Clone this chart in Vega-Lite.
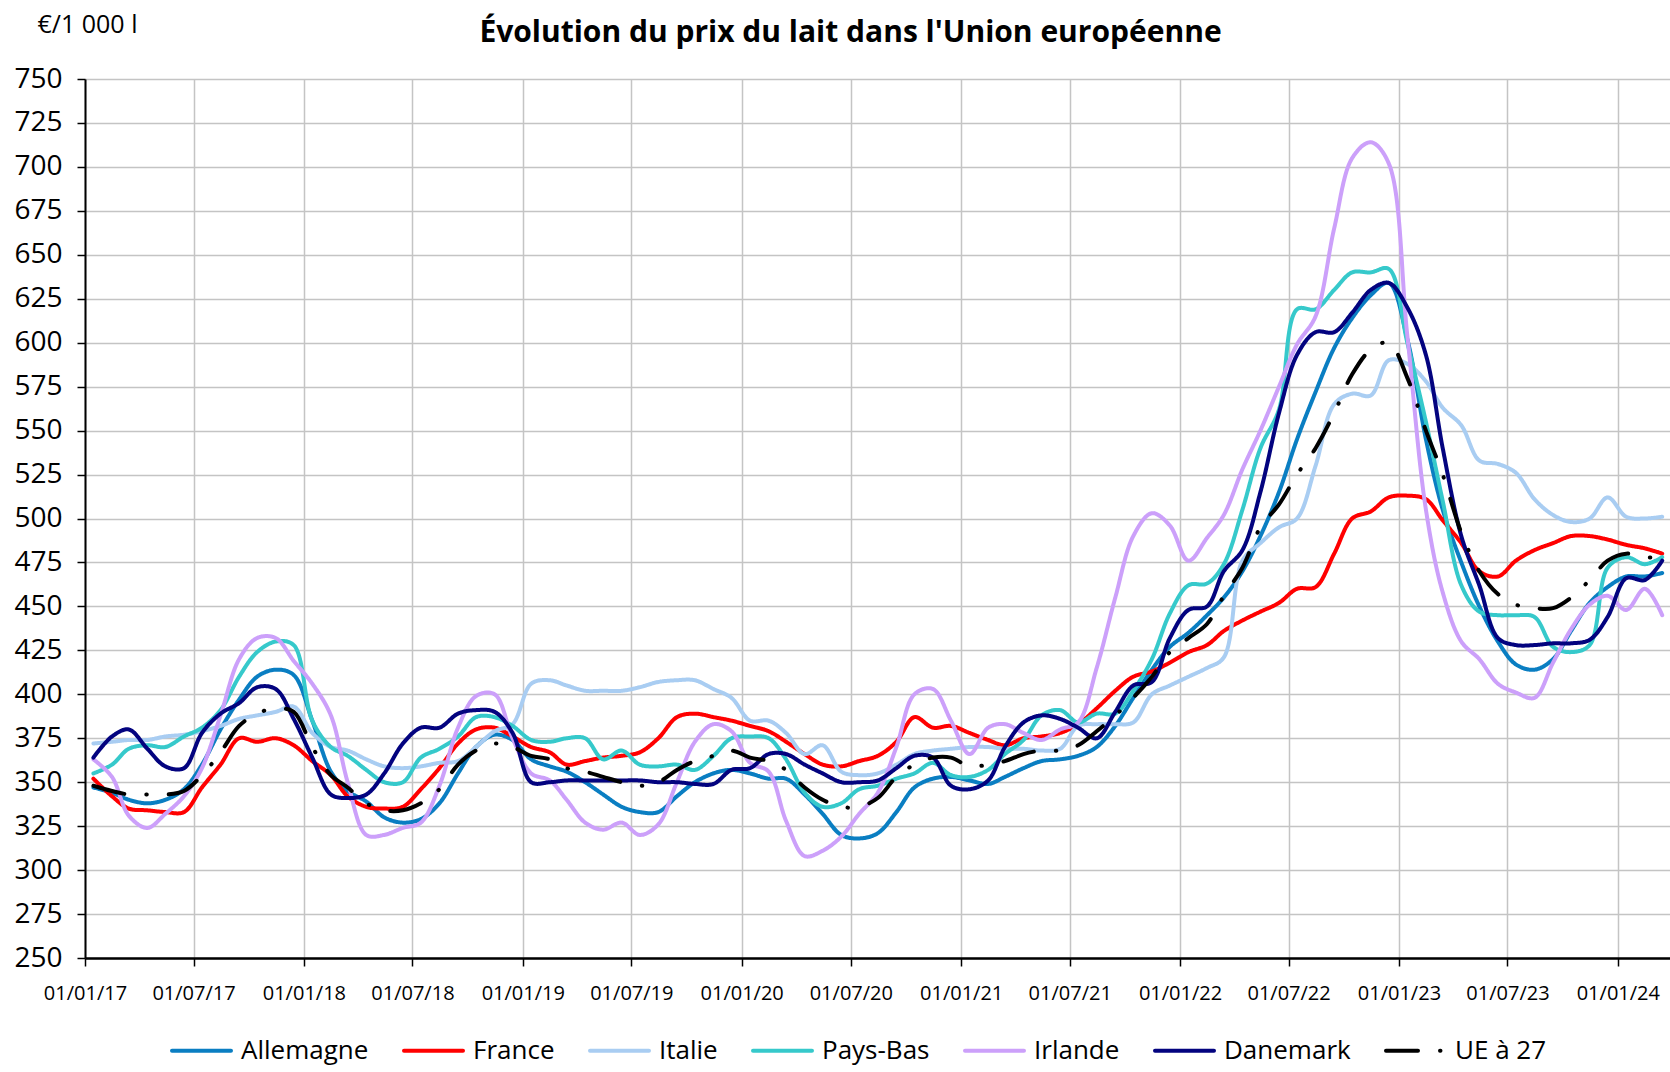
{
"$schema":"https://vega.github.io/schema/vega-lite/v6.json",
"width":1585,"height":879,
"autosize":{"type":"none"},
"padding":{"left":85,"top":79,"right":0,"bottom":114},
"background":"white",
"config":{"view":{"stroke":null}},
"title":{"text":"Évolution du prix du lait dans l'Union européenne","orient":"top","font":"Open Sans","fontSize":30,"fontWeight":"bold","color":"black","anchor":"middle","dx":-27,"offset":30,"dy":66},
"data":{"values":[
{"d":"2017-01-15","s":"Allemagne","v":347},{"d":"2017-02-15","s":"Allemagne","v":344},{"d":"2017-03-15","s":"Allemagne","v":340},{"d":"2017-04-15","s":"Allemagne","v":338},{"d":"2017-05-15","s":"Allemagne","v":340},{"d":"2017-06-15","s":"Allemagne","v":346},{"d":"2017-07-15","s":"Allemagne","v":360},{"d":"2017-08-15","s":"Allemagne","v":380},{"d":"2017-09-15","s":"Allemagne","v":397},{"d":"2017-10-15","s":"Allemagne","v":410},{"d":"2017-11-15","s":"Allemagne","v":414},{"d":"2017-12-15","s":"Allemagne","v":411},
{"d":"2018-01-15","s":"Allemagne","v":385},{"d":"2018-02-15","s":"Allemagne","v":356},{"d":"2018-03-15","s":"Allemagne","v":345},{"d":"2018-04-15","s":"Allemagne","v":339},{"d":"2018-05-15","s":"Allemagne","v":330},{"d":"2018-06-15","s":"Allemagne","v":327},{"d":"2018-07-15","s":"Allemagne","v":329},{"d":"2018-08-15","s":"Allemagne","v":338},{"d":"2018-09-15","s":"Allemagne","v":355},{"d":"2018-10-15","s":"Allemagne","v":370},{"d":"2018-11-15","s":"Allemagne","v":377},{"d":"2018-12-15","s":"Allemagne","v":374},
{"d":"2019-01-15","s":"Allemagne","v":363},{"d":"2019-02-15","s":"Allemagne","v":359},{"d":"2019-03-15","s":"Allemagne","v":356},{"d":"2019-04-15","s":"Allemagne","v":350},{"d":"2019-05-15","s":"Allemagne","v":343},{"d":"2019-06-15","s":"Allemagne","v":336},{"d":"2019-07-15","s":"Allemagne","v":333},{"d":"2019-08-15","s":"Allemagne","v":333},{"d":"2019-09-15","s":"Allemagne","v":342},{"d":"2019-10-15","s":"Allemagne","v":350},{"d":"2019-11-15","s":"Allemagne","v":355},{"d":"2019-12-15","s":"Allemagne","v":357},
{"d":"2020-01-15","s":"Allemagne","v":355},{"d":"2020-02-15","s":"Allemagne","v":352},{"d":"2020-03-15","s":"Allemagne","v":352},{"d":"2020-04-15","s":"Allemagne","v":343},{"d":"2020-05-15","s":"Allemagne","v":332},{"d":"2020-06-15","s":"Allemagne","v":320},{"d":"2020-07-15","s":"Allemagne","v":318},{"d":"2020-08-15","s":"Allemagne","v":321},{"d":"2020-09-15","s":"Allemagne","v":333},{"d":"2020-10-15","s":"Allemagne","v":347},{"d":"2020-11-15","s":"Allemagne","v":352},{"d":"2020-12-15","s":"Allemagne","v":353},
{"d":"2021-01-15","s":"Allemagne","v":351},{"d":"2021-02-15","s":"Allemagne","v":349},{"d":"2021-03-15","s":"Allemagne","v":353},{"d":"2021-04-15","s":"Allemagne","v":358},{"d":"2021-05-15","s":"Allemagne","v":362},{"d":"2021-06-15","s":"Allemagne","v":363},{"d":"2021-07-15","s":"Allemagne","v":365},{"d":"2021-08-15","s":"Allemagne","v":370},{"d":"2021-09-15","s":"Allemagne","v":382},{"d":"2021-10-15","s":"Allemagne","v":398},{"d":"2021-11-15","s":"Allemagne","v":414},{"d":"2021-12-15","s":"Allemagne","v":427},
{"d":"2022-01-15","s":"Allemagne","v":435},{"d":"2022-02-15","s":"Allemagne","v":445},{"d":"2022-03-15","s":"Allemagne","v":455},{"d":"2022-04-15","s":"Allemagne","v":470},{"d":"2022-05-15","s":"Allemagne","v":490},{"d":"2022-06-15","s":"Allemagne","v":515},{"d":"2022-07-15","s":"Allemagne","v":545},{"d":"2022-08-15","s":"Allemagne","v":572},{"d":"2022-09-15","s":"Allemagne","v":597},{"d":"2022-10-15","s":"Allemagne","v":614},{"d":"2022-11-15","s":"Allemagne","v":627},{"d":"2022-12-15","s":"Allemagne","v":634},
{"d":"2023-01-15","s":"Allemagne","v":602},{"d":"2023-02-15","s":"Allemagne","v":545},{"d":"2023-03-15","s":"Allemagne","v":505},{"d":"2023-04-15","s":"Allemagne","v":475},{"d":"2023-05-15","s":"Allemagne","v":450},{"d":"2023-06-15","s":"Allemagne","v":430},{"d":"2023-07-15","s":"Allemagne","v":417},{"d":"2023-08-15","s":"Allemagne","v":414},{"d":"2023-09-15","s":"Allemagne","v":420},{"d":"2023-10-15","s":"Allemagne","v":436},{"d":"2023-11-15","s":"Allemagne","v":452},{"d":"2023-12-15","s":"Allemagne","v":461},
{"d":"2024-01-15","s":"Allemagne","v":467},{"d":"2024-02-15","s":"Allemagne","v":467},{"d":"2024-03-15","s":"Allemagne","v":469},
{"d":"2017-01-15","s":"France","v":352},{"d":"2017-02-15","s":"France","v":342},{"d":"2017-03-15","s":"France","v":335},{"d":"2017-04-15","s":"France","v":334},{"d":"2017-05-15","s":"France","v":333},{"d":"2017-06-15","s":"France","v":333},{"d":"2017-07-15","s":"France","v":347},{"d":"2017-08-15","s":"France","v":360},{"d":"2017-09-15","s":"France","v":375},{"d":"2017-10-15","s":"France","v":373},{"d":"2017-11-15","s":"France","v":375},{"d":"2017-12-15","s":"France","v":371},
{"d":"2018-01-15","s":"France","v":362},{"d":"2018-02-15","s":"France","v":354},{"d":"2018-03-15","s":"France","v":342},{"d":"2018-04-15","s":"France","v":336},{"d":"2018-05-15","s":"France","v":335},{"d":"2018-06-15","s":"France","v":336},{"d":"2018-07-15","s":"France","v":346},{"d":"2018-08-15","s":"France","v":358},{"d":"2018-09-15","s":"France","v":372},{"d":"2018-10-15","s":"France","v":380},{"d":"2018-11-15","s":"France","v":381},{"d":"2018-12-15","s":"France","v":376},
{"d":"2019-01-15","s":"France","v":370},{"d":"2019-02-15","s":"France","v":367},{"d":"2019-03-15","s":"France","v":360},{"d":"2019-04-15","s":"France","v":362},{"d":"2019-05-15","s":"France","v":364},{"d":"2019-06-15","s":"France","v":365},{"d":"2019-07-15","s":"France","v":367},{"d":"2019-08-15","s":"France","v":375},{"d":"2019-09-15","s":"France","v":387},{"d":"2019-10-15","s":"France","v":389},{"d":"2019-11-15","s":"France","v":387},{"d":"2019-12-15","s":"France","v":385},
{"d":"2020-01-15","s":"France","v":382},{"d":"2020-02-15","s":"France","v":379},{"d":"2020-03-15","s":"France","v":373},{"d":"2020-04-15","s":"France","v":366},{"d":"2020-05-15","s":"France","v":360},{"d":"2020-06-15","s":"France","v":359},{"d":"2020-07-15","s":"France","v":362},{"d":"2020-08-15","s":"France","v":365},{"d":"2020-09-15","s":"France","v":373},{"d":"2020-10-15","s":"France","v":387},{"d":"2020-11-15","s":"France","v":381},{"d":"2020-12-15","s":"France","v":382},
{"d":"2021-01-15","s":"France","v":378},{"d":"2021-02-15","s":"France","v":374},{"d":"2021-03-15","s":"France","v":371},{"d":"2021-04-15","s":"France","v":375},{"d":"2021-05-15","s":"France","v":376},{"d":"2021-06-15","s":"France","v":378},{"d":"2021-07-15","s":"France","v":383},{"d":"2021-08-15","s":"France","v":392},{"d":"2021-09-15","s":"France","v":402},{"d":"2021-10-15","s":"France","v":410},{"d":"2021-11-15","s":"France","v":413},{"d":"2021-12-15","s":"France","v":418},
{"d":"2022-01-15","s":"France","v":424},{"d":"2022-02-15","s":"France","v":428},{"d":"2022-03-15","s":"France","v":436},{"d":"2022-04-15","s":"France","v":442},{"d":"2022-05-15","s":"France","v":447},{"d":"2022-06-15","s":"France","v":452},{"d":"2022-07-15","s":"France","v":460},{"d":"2022-08-15","s":"France","v":461},{"d":"2022-09-15","s":"France","v":480},{"d":"2022-10-15","s":"France","v":500},{"d":"2022-11-15","s":"France","v":504},{"d":"2022-12-15","s":"France","v":512},
{"d":"2023-01-15","s":"France","v":513},{"d":"2023-02-15","s":"France","v":511},{"d":"2023-03-15","s":"France","v":499},{"d":"2023-04-15","s":"France","v":486},{"d":"2023-05-15","s":"France","v":470},{"d":"2023-06-15","s":"France","v":467},{"d":"2023-07-15","s":"France","v":476},{"d":"2023-08-15","s":"France","v":482},{"d":"2023-09-15","s":"France","v":486},{"d":"2023-10-15","s":"France","v":490},{"d":"2023-11-15","s":"France","v":490},{"d":"2023-12-15","s":"France","v":488},
{"d":"2024-01-15","s":"France","v":485},{"d":"2024-02-15","s":"France","v":483},{"d":"2024-03-15","s":"France","v":480},
{"d":"2017-01-15","s":"Italie","v":372},{"d":"2017-02-15","s":"Italie","v":373},{"d":"2017-03-15","s":"Italie","v":374},{"d":"2017-04-15","s":"Italie","v":374},{"d":"2017-05-15","s":"Italie","v":376},{"d":"2017-06-15","s":"Italie","v":377},{"d":"2017-07-15","s":"Italie","v":379},{"d":"2017-08-15","s":"Italie","v":382},{"d":"2017-09-15","s":"Italie","v":386},{"d":"2017-10-15","s":"Italie","v":388},{"d":"2017-11-15","s":"Italie","v":390},{"d":"2017-12-15","s":"Italie","v":393},
{"d":"2018-01-15","s":"Italie","v":378},{"d":"2018-02-15","s":"Italie","v":370},{"d":"2018-03-15","s":"Italie","v":368},{"d":"2018-04-15","s":"Italie","v":363},{"d":"2018-05-15","s":"Italie","v":359},{"d":"2018-06-15","s":"Italie","v":358},{"d":"2018-07-15","s":"Italie","v":359},{"d":"2018-08-15","s":"Italie","v":361},{"d":"2018-09-15","s":"Italie","v":362},{"d":"2018-10-15","s":"Italie","v":370},{"d":"2018-11-15","s":"Italie","v":379},{"d":"2018-12-15","s":"Italie","v":383},
{"d":"2019-01-15","s":"Italie","v":406},{"d":"2019-02-15","s":"Italie","v":408},{"d":"2019-03-15","s":"Italie","v":405},{"d":"2019-04-15","s":"Italie","v":402},{"d":"2019-05-15","s":"Italie","v":402},{"d":"2019-06-15","s":"Italie","v":402},{"d":"2019-07-15","s":"Italie","v":404},{"d":"2019-08-15","s":"Italie","v":407},{"d":"2019-09-15","s":"Italie","v":408},{"d":"2019-10-15","s":"Italie","v":408},{"d":"2019-11-15","s":"Italie","v":403},{"d":"2019-12-15","s":"Italie","v":398},
{"d":"2020-01-15","s":"Italie","v":385},{"d":"2020-02-15","s":"Italie","v":385},{"d":"2020-03-15","s":"Italie","v":378},{"d":"2020-04-15","s":"Italie","v":366},{"d":"2020-05-15","s":"Italie","v":371},{"d":"2020-06-15","s":"Italie","v":356},{"d":"2020-07-15","s":"Italie","v":354},{"d":"2020-08-15","s":"Italie","v":355},{"d":"2020-09-15","s":"Italie","v":360},{"d":"2020-10-15","s":"Italie","v":366},{"d":"2020-11-15","s":"Italie","v":368},{"d":"2020-12-15","s":"Italie","v":369},
{"d":"2021-01-15","s":"Italie","v":370},{"d":"2021-02-15","s":"Italie","v":370},{"d":"2021-03-15","s":"Italie","v":369},{"d":"2021-04-15","s":"Italie","v":369},{"d":"2021-05-15","s":"Italie","v":368},{"d":"2021-06-15","s":"Italie","v":369},{"d":"2021-07-15","s":"Italie","v":382},{"d":"2021-08-15","s":"Italie","v":383},{"d":"2021-09-15","s":"Italie","v":383},{"d":"2021-10-15","s":"Italie","v":384},{"d":"2021-11-15","s":"Italie","v":400},{"d":"2021-12-15","s":"Italie","v":405},
{"d":"2022-01-15","s":"Italie","v":410},{"d":"2022-02-15","s":"Italie","v":415},{"d":"2022-03-15","s":"Italie","v":421},{"d":"2022-04-15","s":"Italie","v":476},{"d":"2022-05-15","s":"Italie","v":486},{"d":"2022-06-15","s":"Italie","v":495},{"d":"2022-07-15","s":"Italie","v":500},{"d":"2022-08-15","s":"Italie","v":530},{"d":"2022-09-15","s":"Italie","v":565},{"d":"2022-10-15","s":"Italie","v":571},{"d":"2022-11-15","s":"Italie","v":570},{"d":"2022-12-15","s":"Italie","v":590},
{"d":"2023-01-15","s":"Italie","v":588},{"d":"2023-02-15","s":"Italie","v":578},{"d":"2023-03-15","s":"Italie","v":563},{"d":"2023-04-15","s":"Italie","v":553},{"d":"2023-05-15","s":"Italie","v":533},{"d":"2023-06-15","s":"Italie","v":531},{"d":"2023-07-15","s":"Italie","v":526},{"d":"2023-08-15","s":"Italie","v":511},{"d":"2023-09-15","s":"Italie","v":502},{"d":"2023-10-15","s":"Italie","v":498},{"d":"2023-11-15","s":"Italie","v":500},{"d":"2023-12-15","s":"Italie","v":512},
{"d":"2024-01-15","s":"Italie","v":501},{"d":"2024-02-15","s":"Italie","v":500},{"d":"2024-03-15","s":"Italie","v":501},
{"d":"2017-01-15","s":"Pays-Bas","v":355},{"d":"2017-02-15","s":"Pays-Bas","v":360},{"d":"2017-03-15","s":"Pays-Bas","v":369},{"d":"2017-04-15","s":"Pays-Bas","v":371},{"d":"2017-05-15","s":"Pays-Bas","v":370},{"d":"2017-06-15","s":"Pays-Bas","v":376},{"d":"2017-07-15","s":"Pays-Bas","v":381},{"d":"2017-08-15","s":"Pays-Bas","v":391},{"d":"2017-09-15","s":"Pays-Bas","v":410},{"d":"2017-10-15","s":"Pays-Bas","v":424},{"d":"2017-11-15","s":"Pays-Bas","v":430},{"d":"2017-12-15","s":"Pays-Bas","v":428},
{"d":"2018-01-15","s":"Pays-Bas","v":385},{"d":"2018-02-15","s":"Pays-Bas","v":370},{"d":"2018-03-15","s":"Pays-Bas","v":365},{"d":"2018-04-15","s":"Pays-Bas","v":357},{"d":"2018-05-15","s":"Pays-Bas","v":350},{"d":"2018-06-15","s":"Pays-Bas","v":350},{"d":"2018-07-15","s":"Pays-Bas","v":364},{"d":"2018-08-15","s":"Pays-Bas","v":369},{"d":"2018-09-15","s":"Pays-Bas","v":376},{"d":"2018-10-15","s":"Pays-Bas","v":387},{"d":"2018-11-15","s":"Pays-Bas","v":387},{"d":"2018-12-15","s":"Pays-Bas","v":382},
{"d":"2019-01-15","s":"Pays-Bas","v":374},{"d":"2019-02-15","s":"Pays-Bas","v":373},{"d":"2019-03-15","s":"Pays-Bas","v":375},{"d":"2019-04-15","s":"Pays-Bas","v":375},{"d":"2019-05-15","s":"Pays-Bas","v":363},{"d":"2019-06-15","s":"Pays-Bas","v":368},{"d":"2019-07-15","s":"Pays-Bas","v":360},{"d":"2019-08-15","s":"Pays-Bas","v":359},{"d":"2019-09-15","s":"Pays-Bas","v":360},{"d":"2019-10-15","s":"Pays-Bas","v":357},{"d":"2019-11-15","s":"Pays-Bas","v":365},{"d":"2019-12-15","s":"Pays-Bas","v":375},
{"d":"2020-01-15","s":"Pays-Bas","v":376},{"d":"2020-02-15","s":"Pays-Bas","v":375},{"d":"2020-03-15","s":"Pays-Bas","v":363},{"d":"2020-04-15","s":"Pays-Bas","v":344},{"d":"2020-05-15","s":"Pays-Bas","v":336},{"d":"2020-06-15","s":"Pays-Bas","v":338},{"d":"2020-07-15","s":"Pays-Bas","v":346},{"d":"2020-08-15","s":"Pays-Bas","v":348},{"d":"2020-09-15","s":"Pays-Bas","v":352},{"d":"2020-10-15","s":"Pays-Bas","v":355},{"d":"2020-11-15","s":"Pays-Bas","v":361},{"d":"2020-12-15","s":"Pays-Bas","v":354},
{"d":"2021-01-15","s":"Pays-Bas","v":353},{"d":"2021-02-15","s":"Pays-Bas","v":357},{"d":"2021-03-15","s":"Pays-Bas","v":366},{"d":"2021-04-15","s":"Pays-Bas","v":374},{"d":"2021-05-15","s":"Pays-Bas","v":388},{"d":"2021-06-15","s":"Pays-Bas","v":391},{"d":"2021-07-15","s":"Pays-Bas","v":384},{"d":"2021-08-15","s":"Pays-Bas","v":389},{"d":"2021-09-15","s":"Pays-Bas","v":389},{"d":"2021-10-15","s":"Pays-Bas","v":402},{"d":"2021-11-15","s":"Pays-Bas","v":420},{"d":"2021-12-15","s":"Pays-Bas","v":446},
{"d":"2022-01-15","s":"Pays-Bas","v":462},{"d":"2022-02-15","s":"Pays-Bas","v":463},{"d":"2022-03-15","s":"Pays-Bas","v":474},{"d":"2022-04-15","s":"Pays-Bas","v":505},{"d":"2022-05-15","s":"Pays-Bas","v":540},{"d":"2022-06-15","s":"Pays-Bas","v":562},{"d":"2022-07-15","s":"Pays-Bas","v":619},{"d":"2022-08-15","s":"Pays-Bas","v":619},{"d":"2022-09-15","s":"Pays-Bas","v":630},{"d":"2022-10-15","s":"Pays-Bas","v":640},{"d":"2022-11-15","s":"Pays-Bas","v":640},{"d":"2022-12-15","s":"Pays-Bas","v":642},
{"d":"2023-01-15","s":"Pays-Bas","v":600},{"d":"2023-02-15","s":"Pays-Bas","v":555},{"d":"2023-03-15","s":"Pays-Bas","v":510},{"d":"2023-04-15","s":"Pays-Bas","v":462},{"d":"2023-05-15","s":"Pays-Bas","v":447},{"d":"2023-06-15","s":"Pays-Bas","v":445},{"d":"2023-07-15","s":"Pays-Bas","v":445},{"d":"2023-08-15","s":"Pays-Bas","v":444},{"d":"2023-09-15","s":"Pays-Bas","v":427},{"d":"2023-10-15","s":"Pays-Bas","v":424},{"d":"2023-11-15","s":"Pays-Bas","v":428},{"d":"2023-12-15","s":"Pays-Bas","v":472},
{"d":"2024-01-15","s":"Pays-Bas","v":478},{"d":"2024-02-15","s":"Pays-Bas","v":474},{"d":"2024-03-15","s":"Pays-Bas","v":478},
{"d":"2017-01-15","s":"Irlande","v":363},{"d":"2017-02-15","s":"Irlande","v":353},{"d":"2017-03-15","s":"Irlande","v":331},{"d":"2017-04-15","s":"Irlande","v":324},{"d":"2017-05-15","s":"Irlande","v":332},{"d":"2017-06-15","s":"Irlande","v":342},{"d":"2017-07-15","s":"Irlande","v":358},{"d":"2017-08-15","s":"Irlande","v":388},{"d":"2017-09-15","s":"Irlande","v":420},{"d":"2017-10-15","s":"Irlande","v":432},{"d":"2017-11-15","s":"Irlande","v":432},{"d":"2017-12-15","s":"Irlande","v":419},
{"d":"2018-01-15","s":"Irlande","v":406},{"d":"2018-02-15","s":"Irlande","v":388},{"d":"2018-03-15","s":"Irlande","v":350},{"d":"2018-04-15","s":"Irlande","v":320},{"d":"2018-05-15","s":"Irlande","v":320},{"d":"2018-06-15","s":"Irlande","v":324},{"d":"2018-07-15","s":"Irlande","v":327},{"d":"2018-08-15","s":"Irlande","v":348},{"d":"2018-09-15","s":"Irlande","v":381},{"d":"2018-10-15","s":"Irlande","v":399},{"d":"2018-11-15","s":"Irlande","v":400},{"d":"2018-12-15","s":"Irlande","v":375},
{"d":"2019-01-15","s":"Irlande","v":355},{"d":"2019-02-15","s":"Irlande","v":351},{"d":"2019-03-15","s":"Irlande","v":340},{"d":"2019-04-15","s":"Irlande","v":327},{"d":"2019-05-15","s":"Irlande","v":323},{"d":"2019-06-15","s":"Irlande","v":327},{"d":"2019-07-15","s":"Irlande","v":320},{"d":"2019-08-15","s":"Irlande","v":326},{"d":"2019-09-15","s":"Irlande","v":350},{"d":"2019-10-15","s":"Irlande","v":373},{"d":"2019-11-15","s":"Irlande","v":383},{"d":"2019-12-15","s":"Irlande","v":379},
{"d":"2020-01-15","s":"Irlande","v":361},{"d":"2020-02-15","s":"Irlande","v":356},{"d":"2020-03-15","s":"Irlande","v":328},{"d":"2020-04-15","s":"Irlande","v":308},{"d":"2020-05-15","s":"Irlande","v":311},{"d":"2020-06-15","s":"Irlande","v":319},{"d":"2020-07-15","s":"Irlande","v":332},{"d":"2020-08-15","s":"Irlande","v":344},{"d":"2020-09-15","s":"Irlande","v":370},{"d":"2020-10-15","s":"Irlande","v":400},{"d":"2020-11-15","s":"Irlande","v":403},{"d":"2020-12-15","s":"Irlande","v":385},
{"d":"2021-01-15","s":"Irlande","v":366},{"d":"2021-02-15","s":"Irlande","v":381},{"d":"2021-03-15","s":"Irlande","v":383},{"d":"2021-04-15","s":"Irlande","v":378},{"d":"2021-05-15","s":"Irlande","v":374},{"d":"2021-06-15","s":"Irlande","v":380},{"d":"2021-07-15","s":"Irlande","v":384},{"d":"2021-08-15","s":"Irlande","v":415},{"d":"2021-09-15","s":"Irlande","v":455},{"d":"2021-10-15","s":"Irlande","v":490},{"d":"2021-11-15","s":"Irlande","v":503},{"d":"2021-12-15","s":"Irlande","v":496},
{"d":"2022-01-15","s":"Irlande","v":476},{"d":"2022-02-15","s":"Irlande","v":489},{"d":"2022-03-15","s":"Irlande","v":502},{"d":"2022-04-15","s":"Irlande","v":528},{"d":"2022-05-15","s":"Irlande","v":550},{"d":"2022-06-15","s":"Irlande","v":575},{"d":"2022-07-15","s":"Irlande","v":599},{"d":"2022-08-15","s":"Irlande","v":615},{"d":"2022-09-15","s":"Irlande","v":665},{"d":"2022-10-15","s":"Irlande","v":705},{"d":"2022-11-15","s":"Irlande","v":714},{"d":"2022-12-15","s":"Irlande","v":702},
{"d":"2023-01-15","s":"Irlande","v":604},{"d":"2023-02-15","s":"Irlande","v":505},{"d":"2023-03-15","s":"Irlande","v":458},{"d":"2023-04-15","s":"Irlande","v":430},{"d":"2023-05-15","s":"Irlande","v":420},{"d":"2023-06-15","s":"Irlande","v":406},{"d":"2023-07-15","s":"Irlande","v":401},{"d":"2023-08-15","s":"Irlande","v":398},{"d":"2023-09-15","s":"Irlande","v":418},{"d":"2023-10-15","s":"Irlande","v":437},{"d":"2023-11-15","s":"Irlande","v":451},{"d":"2023-12-15","s":"Irlande","v":456},
{"d":"2024-01-15","s":"Irlande","v":448},{"d":"2024-02-15","s":"Irlande","v":460},{"d":"2024-03-15","s":"Irlande","v":445},
{"d":"2017-01-15","s":"Danemark","v":364},{"d":"2017-02-15","s":"Danemark","v":376},{"d":"2017-03-15","s":"Danemark","v":380},{"d":"2017-04-15","s":"Danemark","v":369},{"d":"2017-05-15","s":"Danemark","v":359},{"d":"2017-06-15","s":"Danemark","v":358},{"d":"2017-07-15","s":"Danemark","v":378},{"d":"2017-08-15","s":"Danemark","v":389},{"d":"2017-09-15","s":"Danemark","v":395},{"d":"2017-10-15","s":"Danemark","v":404},{"d":"2017-11-15","s":"Danemark","v":403},{"d":"2017-12-15","s":"Danemark","v":386},
{"d":"2018-01-15","s":"Danemark","v":364},{"d":"2018-02-15","s":"Danemark","v":343},{"d":"2018-03-15","s":"Danemark","v":341},{"d":"2018-04-15","s":"Danemark","v":343},{"d":"2018-05-15","s":"Danemark","v":355},{"d":"2018-06-15","s":"Danemark","v":372},{"d":"2018-07-15","s":"Danemark","v":381},{"d":"2018-08-15","s":"Danemark","v":381},{"d":"2018-09-15","s":"Danemark","v":389},{"d":"2018-10-15","s":"Danemark","v":391},{"d":"2018-11-15","s":"Danemark","v":390},{"d":"2018-12-15","s":"Danemark","v":378},
{"d":"2019-01-15","s":"Danemark","v":350},{"d":"2019-02-15","s":"Danemark","v":350},{"d":"2019-03-15","s":"Danemark","v":351},{"d":"2019-04-15","s":"Danemark","v":351},{"d":"2019-05-15","s":"Danemark","v":351},{"d":"2019-06-15","s":"Danemark","v":351},{"d":"2019-07-15","s":"Danemark","v":351},{"d":"2019-08-15","s":"Danemark","v":350},{"d":"2019-09-15","s":"Danemark","v":350},{"d":"2019-10-15","s":"Danemark","v":349},{"d":"2019-11-15","s":"Danemark","v":349},{"d":"2019-12-15","s":"Danemark","v":357},
{"d":"2020-01-15","s":"Danemark","v":358},{"d":"2020-02-15","s":"Danemark","v":366},{"d":"2020-03-15","s":"Danemark","v":366},{"d":"2020-04-15","s":"Danemark","v":360},{"d":"2020-05-15","s":"Danemark","v":355},{"d":"2020-06-15","s":"Danemark","v":350},{"d":"2020-07-15","s":"Danemark","v":350},{"d":"2020-08-15","s":"Danemark","v":351},{"d":"2020-09-15","s":"Danemark","v":358},{"d":"2020-10-15","s":"Danemark","v":365},{"d":"2020-11-15","s":"Danemark","v":364},{"d":"2020-12-15","s":"Danemark","v":348},
{"d":"2021-01-15","s":"Danemark","v":346},{"d":"2021-02-15","s":"Danemark","v":351},{"d":"2021-03-15","s":"Danemark","v":370},{"d":"2021-04-15","s":"Danemark","v":384},{"d":"2021-05-15","s":"Danemark","v":388},{"d":"2021-06-15","s":"Danemark","v":386},{"d":"2021-07-15","s":"Danemark","v":381},{"d":"2021-08-15","s":"Danemark","v":375},{"d":"2021-09-15","s":"Danemark","v":390},{"d":"2021-10-15","s":"Danemark","v":405},{"d":"2021-11-15","s":"Danemark","v":407},{"d":"2021-12-15","s":"Danemark","v":432},
{"d":"2022-01-15","s":"Danemark","v":448},{"d":"2022-02-15","s":"Danemark","v":450},{"d":"2022-03-15","s":"Danemark","v":470},{"d":"2022-04-15","s":"Danemark","v":482},{"d":"2022-05-15","s":"Danemark","v":515},{"d":"2022-06-15","s":"Danemark","v":560},{"d":"2022-07-15","s":"Danemark","v":593},{"d":"2022-08-15","s":"Danemark","v":606},{"d":"2022-09-15","s":"Danemark","v":606},{"d":"2022-10-15","s":"Danemark","v":617},{"d":"2022-11-15","s":"Danemark","v":630},{"d":"2022-12-15","s":"Danemark","v":634},
{"d":"2023-01-15","s":"Danemark","v":620},{"d":"2023-02-15","s":"Danemark","v":593},{"d":"2023-03-15","s":"Danemark","v":540},{"d":"2023-04-15","s":"Danemark","v":490},{"d":"2023-05-15","s":"Danemark","v":462},{"d":"2023-06-15","s":"Danemark","v":432},{"d":"2023-07-15","s":"Danemark","v":428},{"d":"2023-08-15","s":"Danemark","v":428},{"d":"2023-09-15","s":"Danemark","v":429},{"d":"2023-10-15","s":"Danemark","v":429},{"d":"2023-11-15","s":"Danemark","v":431},{"d":"2023-12-15","s":"Danemark","v":444},
{"d":"2024-01-15","s":"Danemark","v":466},{"d":"2024-02-15","s":"Danemark","v":465},{"d":"2024-03-15","s":"Danemark","v":476},
{"d":"2017-01-15","s":"UE à 27","v":348},{"d":"2017-02-15","s":"UE à 27","v":345},{"d":"2017-03-15","s":"UE à 27","v":343},{"d":"2017-04-15","s":"UE à 27","v":343},{"d":"2017-05-15","s":"UE à 27","v":343},{"d":"2017-06-15","s":"UE à 27","v":345},{"d":"2017-07-15","s":"UE à 27","v":354},{"d":"2017-08-15","s":"UE à 27","v":367},{"d":"2017-09-15","s":"UE à 27","v":382},{"d":"2017-10-15","s":"UE à 27","v":389},{"d":"2017-11-15","s":"UE à 27","v":392},{"d":"2017-12-15","s":"UE à 27","v":390},
{"d":"2018-01-15","s":"UE à 27","v":370},{"d":"2018-02-15","s":"UE à 27","v":354},{"d":"2018-03-15","s":"UE à 27","v":347},{"d":"2018-04-15","s":"UE à 27","v":338},{"d":"2018-05-15","s":"UE à 27","v":334},{"d":"2018-06-15","s":"UE à 27","v":334},{"d":"2018-07-15","s":"UE à 27","v":338},{"d":"2018-08-15","s":"UE à 27","v":346},{"d":"2018-09-15","s":"UE à 27","v":360},{"d":"2018-10-15","s":"UE à 27","v":368},{"d":"2018-11-15","s":"UE à 27","v":372},{"d":"2018-12-15","s":"UE à 27","v":370},
{"d":"2019-01-15","s":"UE à 27","v":365},{"d":"2019-02-15","s":"UE à 27","v":363},{"d":"2019-03-15","s":"UE à 27","v":358},{"d":"2019-04-15","s":"UE à 27","v":356},{"d":"2019-05-15","s":"UE à 27","v":353},{"d":"2019-06-15","s":"UE à 27","v":350},{"d":"2019-07-15","s":"UE à 27","v":348},{"d":"2019-08-15","s":"UE à 27","v":350},{"d":"2019-09-15","s":"UE à 27","v":357},{"d":"2019-10-15","s":"UE à 27","v":362},{"d":"2019-11-15","s":"UE à 27","v":365},{"d":"2019-12-15","s":"UE à 27","v":368},
{"d":"2020-01-15","s":"UE à 27","v":364},{"d":"2020-02-15","s":"UE à 27","v":362},{"d":"2020-03-15","s":"UE à 27","v":357},{"d":"2020-04-15","s":"UE à 27","v":347},{"d":"2020-05-15","s":"UE à 27","v":340},{"d":"2020-06-15","s":"UE à 27","v":336},{"d":"2020-07-15","s":"UE à 27","v":336},{"d":"2020-08-15","s":"UE à 27","v":341},{"d":"2020-09-15","s":"UE à 27","v":353},{"d":"2020-10-15","s":"UE à 27","v":360},{"d":"2020-11-15","s":"UE à 27","v":364},{"d":"2020-12-15","s":"UE à 27","v":364},
{"d":"2021-01-15","s":"UE à 27","v":359},{"d":"2021-02-15","s":"UE à 27","v":360},{"d":"2021-03-15","s":"UE à 27","v":362},{"d":"2021-04-15","s":"UE à 27","v":366},{"d":"2021-05-15","s":"UE à 27","v":368},{"d":"2021-06-15","s":"UE à 27","v":368},{"d":"2021-07-15","s":"UE à 27","v":371},{"d":"2021-08-15","s":"UE à 27","v":379},{"d":"2021-09-15","s":"UE à 27","v":388},{"d":"2021-10-15","s":"UE à 27","v":398},{"d":"2021-11-15","s":"UE à 27","v":410},{"d":"2021-12-15","s":"UE à 27","v":424},
{"d":"2022-01-15","s":"UE à 27","v":432},{"d":"2022-02-15","s":"UE à 27","v":440},{"d":"2022-03-15","s":"UE à 27","v":456},{"d":"2022-04-15","s":"UE à 27","v":472},{"d":"2022-05-15","s":"UE à 27","v":495},{"d":"2022-06-15","s":"UE à 27","v":508},{"d":"2022-07-15","s":"UE à 27","v":525},{"d":"2022-08-15","s":"UE à 27","v":540},{"d":"2022-09-15","s":"UE à 27","v":560},{"d":"2022-10-15","s":"UE à 27","v":582},{"d":"2022-11-15","s":"UE à 27","v":596},{"d":"2022-12-15","s":"UE à 27","v":600},
{"d":"2023-01-15","s":"UE à 27","v":580},{"d":"2023-02-15","s":"UE à 27","v":550},{"d":"2023-03-15","s":"UE à 27","v":525},{"d":"2023-04-15","s":"UE à 27","v":492},{"d":"2023-05-15","s":"UE à 27","v":470},{"d":"2023-06-15","s":"UE à 27","v":457},{"d":"2023-07-15","s":"UE à 27","v":451},{"d":"2023-08-15","s":"UE à 27","v":449},{"d":"2023-09-15","s":"UE à 27","v":449},{"d":"2023-10-15","s":"UE à 27","v":455},{"d":"2023-11-15","s":"UE à 27","v":465},{"d":"2023-12-15","s":"UE à 27","v":476},
{"d":"2024-01-15","s":"UE à 27","v":480},{"d":"2024-02-15","s":"UE à 27","v":478},{"d":"2024-03-15","s":"UE à 27","v":478}
]},
"mark":{"type":"line","interpolate":"catmull-rom","strokeCap":"round","strokeJoin":"round","clip":true},
"encoding":{
"x":{"field":"d","type":"temporal","scale":{"type":"utc","domain":[{"year":2017,"month":1,"date":1,"utc":true},{"year":2024,"month":3,"date":28,"utc":true}]},
"axis":{"title":null,"values":[{"year":2017,"month":1,"date":1,"utc":true},{"year":2017,"month":7,"date":1,"utc":true},{"year":2018,"month":1,"date":1,"utc":true},{"year":2018,"month":7,"date":1,"utc":true},{"year":2019,"month":1,"date":1,"utc":true},{"year":2019,"month":7,"date":1,"utc":true},{"year":2020,"month":1,"date":1,"utc":true},{"year":2020,"month":7,"date":1,"utc":true},{"year":2021,"month":1,"date":1,"utc":true},{"year":2021,"month":7,"date":1,"utc":true},{"year":2022,"month":1,"date":1,"utc":true},{"year":2022,"month":7,"date":1,"utc":true},{"year":2023,"month":1,"date":1,"utc":true},{"year":2023,"month":7,"date":1,"utc":true},{"year":2024,"month":1,"date":1,"utc":true}],
"labelExpr":"utcFormat(datum.value, '%d/%m/%y')","grid":true,"gridColor":"#C4C4C4","gridWidth":1.5,"domainColor":"black","domainWidth":2.5,"tickColor":"black","tickSize":8,"tickWidth":1.5,"labelFont":"Open Sans","labelFontSize":20,"labelColor":"black","labelPadding":17,"labelAngle":0,"labelOverlap":false,"labelFlush":false}},
"y":{"field":"v","type":"quantitative","scale":{"domain":[250,750],"nice":false,"zero":false},
"axis":{"values":[250,275,300,325,350,375,400,425,450,475,500,525,550,575,600,625,650,675,700,725,750],"title":"€/1 000 l","titleAngle":0,"titleX":-48,"titleY":-55,"titleAlign":"left","titleBaseline":"middle","titleFont":"Open Sans","titleFontSize":25,"titleFontWeight":"normal","titleColor":"black","grid":true,"gridColor":"#C4C4C4","gridWidth":1.5,"domainColor":"black","domainWidth":2,"tickColor":"black","tickSize":8,"tickWidth":1.5,"labelFont":"Open Sans","labelFontSize":28,"labelColor":"black","labelPadding":15}},
"color":{"field":"s","type":"nominal","sort":null,"scale":{"domain":["Allemagne","France","Italie","Pays-Bas","Irlande","Danemark","UE à 27"],"range":["#0A7EC2","#FF0000","#A9CDF2","#36C9CB","#CCA0FA","#03037F","#000000"]},
"legend":{"orient":"none","legendX":85,"legendY":940,"direction":"horizontal","title":null,"symbolType":"stroke","symbolSize":3481,"symbolStrokeWidth":5,"labelFont":"Open Sans","labelFontSize":26,"labelColor":"black","labelOffset":8,"columnPadding":27,"padding":0,"labelLimit":300,"encode":{"symbols":{"update":{"strokeCap":{"value":"round"}}}}}},
"strokeDash":{"field":"s","type":"nominal","sort":null,"scale":{"domain":["Allemagne","France","Italie","Pays-Bas","Irlande","Danemark","UE à 27"],"range":[[1,0],[1,0],[1,0],[1,0],[1,0],[1,0],[32,22,0.5,22]]},
"legend":{"orient":"none","legendX":85,"legendY":940,"direction":"horizontal","title":null,"symbolType":"stroke","symbolSize":3481,"symbolStrokeWidth":5,"labelFont":"Open Sans","labelFontSize":26,"labelColor":"black","labelOffset":8,"columnPadding":27,"padding":0,"labelLimit":300,"encode":{"symbols":{"update":{"strokeCap":{"value":"round"}}}}}},
"strokeWidth":{"field":"s","type":"nominal","sort":null,"scale":{"domain":["Allemagne","France","Italie","Pays-Bas","Irlande","Danemark","UE à 27"],"range":[4,4,4,4,4,4,5]},"legend":null}
}
}
